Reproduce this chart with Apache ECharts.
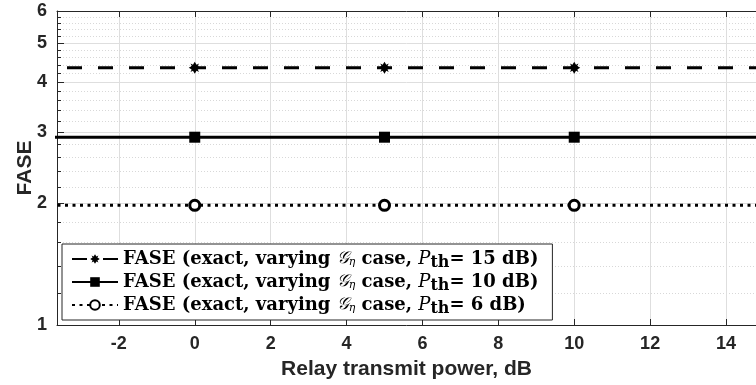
<!DOCTYPE html>
<html>
<head>
<meta charset="utf-8">
<script src="https://cdn.jsdelivr.net/npm/echarts@6/dist/echarts.min.js"></script>
<style>html,body{margin:0;padding:0;background:#fff;}#c{width:756px;height:385px;}</style>
</head>
<body>
<div id="c"></div>
<script>
// ---- data ----
var xValues = [-5, 0, 5, 10, 15, 20];
var fase15 = [4.34, 4.34, 4.34, 4.34, 4.34, 4.34];
var fase10 = [2.92, 2.92, 2.92, 2.92, 2.92, 2.92];
var fase6 = [1.98, 1.98, 1.98, 1.98, 1.98, 1.98];
var pthValues = [15, 10, 6];
var xTicks = [-2, 0, 2, 4, 6, 8, 10, 12, 14];
var yTicks = [1, 2, 3, 4, 5, 6];
var yMinorTicks = [1.2, 1.4, 1.6, 1.8, 2.2, 2.4, 2.6, 2.8, 3.2, 3.4, 3.6, 3.8, 4.2, 4.4, 4.6, 4.8, 5.2, 5.4, 5.6, 5.8];
var xLabel = 'Relay transmit power, dB';
var yLabel = 'FASE';

var names = pthValues.map(function (p) { return 'FASE (exact, varying G_eta case, P_th= ' + p + ' dB)'; });
function richName(name) {
  var p = pthValues[names.indexOf(name)];
  return 'FASE (exact, varying {g|𝒢}{s|η} case, {p|P}{b|th}= ' + p + ' dB)';
}
function pairs(ys) { return xValues.map(function (x, i) { return [x, ys[i]]; }); }

var star = 'path://M0,-10 L3,-5 L7.1,-7.1 L5,-3 L10,0 L5,3 L7.1,7.1 L3,5 L0,10 L-3,5 L-7.1,7.1 L-5,3 L-10,0 L-5,-3 L-7.1,-7.1 L-3,-5 Z';
var axisCol = '#262626';
var tickFont = { color: axisCol, fontSize: 18, fontWeight: 'bold', fontFamily: 'Liberation Sans, Arial, sans-serif' };
var titleFont = { color: axisCol, fontSize: 21, fontWeight: 'bold', fontFamily: 'Liberation Sans, Arial, sans-serif' };

var chart = echarts.init(document.getElementById('c'), null, { renderer: 'canvas' });
chart.setOption({
  animation: false,
  backgroundColor: '#fff',
  grid: { left: 57, right: 0, top: 11, bottom: 60, containLabel: false },
  xAxis: [{
    type: 'value', min: -3.63, max: 14.79, position: 'bottom',
    name: xLabel, nameLocation: 'middle', nameGap: 34,
    nameTextStyle: titleFont,
    axisLine: { show: true, onZero: false, lineStyle: { color: axisCol, width: 1 } },
    axisTick: { show: true, inside: true, length: 6, customValues: xTicks, lineStyle: { color: axisCol } },
    axisLabel: Object.assign({ customValues: xTicks, margin: 10 }, tickFont),
    splitLine: { show: true, lineStyle: { color: '#dedede', width: 1 } }
  }, {
    type: 'value', min: -3.63, max: 14.79, position: 'top',
    axisLine: { show: true, onZero: false, lineStyle: { color: axisCol, width: 1 } },
    axisTick: { show: true, inside: true, length: 6, customValues: xTicks, lineStyle: { color: axisCol } },
    axisLabel: { show: false },
    splitLine: { show: false }
  }],
  yAxis: [{
    type: 'log', logBase: 10, min: 1, max: 6, position: 'left',
    name: yLabel, nameLocation: 'middle', nameGap: 21, nameRotate: 90, nameMoveOverlap: false,
    nameTextStyle: titleFont,
    axisLine: { show: true, onZero: false, lineStyle: { color: axisCol, width: 1 } },
    axisTick: { show: true, inside: true, length: 7, customValues: yTicks, lineStyle: { color: axisCol } },
    axisLabel: Object.assign({ customValues: yTicks, margin: 10 }, tickFont),
    splitLine: { show: true, lineStyle: { color: '#dedede', width: 1 } },
    minorTick: { show: false }, minorSplitLine: { show: false }
  }, {
    type: 'log', logBase: 10, min: 1, max: 6, position: 'left',
    axisLine: { show: false, onZero: false },
    axisTick: { show: true, inside: true, length: 4, customValues: yMinorTicks, lineStyle: { color: axisCol } },
    axisLabel: { show: false },
    splitLine: { show: true, lineStyle: { color: '#d8d8d8', width: 1, type: [1, 2] } }
  }],
  legend: {
    orient: 'vertical', left: 62, top: 244,
    backgroundColor: '#fff', borderColor: axisCol, borderWidth: 1,
    padding: [6, 14, 3, 9], itemGap: 2, itemWidth: 46, itemHeight: 12,
    data: names,
    formatter: richName,
    textStyle: {
      color: '#000', fontSize: 18, fontWeight: 'bold', fontFamily: 'DejaVu Serif, serif',
      rich: {
        g: { fontSize: 17, fontStyle: 'italic', fontWeight: 'normal', fontFamily: 'DejaVu Serif, serif', color: '#000' },
        s: { fontSize: 11, fontStyle: 'italic', fontWeight: 'normal', padding: [7, 0, 0, 0], fontFamily: 'DejaVu Serif, serif', color: '#000' },
        p: { fontSize: 18, fontStyle: 'italic', fontWeight: 'normal', fontFamily: 'DejaVu Serif, serif', color: '#000' },
        b: { fontSize: 16, fontWeight: 'bold', padding: [8, 0, 0, 0], fontFamily: 'DejaVu Serif, serif', color: '#000' }
      }
    }
  },
  series: [{
    name: names[0], type: 'line', xAxisIndex: 0, yAxisIndex: 0, data: pairs(fase15),
    symbol: star, symbolSize: 12, showAllSymbol: true, clip: true,
    lineStyle: { color: '#000', width: 3, type: [15, 16], cap: 'butt' },
    itemStyle: { color: '#000', borderWidth: 0 }
  }, {
    name: names[1], type: 'line', xAxisIndex: 0, yAxisIndex: 0, data: pairs(fase10),
    symbol: 'rect', symbolSize: 11, showAllSymbol: true, clip: true,
    lineStyle: { color: '#000', width: 3, type: 'solid' },
    itemStyle: { color: '#000', borderWidth: 0 }
  }, {
    name: names[2], type: 'line', xAxisIndex: 0, yAxisIndex: 0, data: pairs(fase6),
    symbol: 'circle', symbolSize: 10, showAllSymbol: true, clip: true,
    lineStyle: { color: '#000', width: 3, type: [3, 4.5], cap: 'butt' },
    itemStyle: { color: '#fff', borderColor: '#000', borderWidth: 3 }
  }]
});
</script>
</body>
</html>
